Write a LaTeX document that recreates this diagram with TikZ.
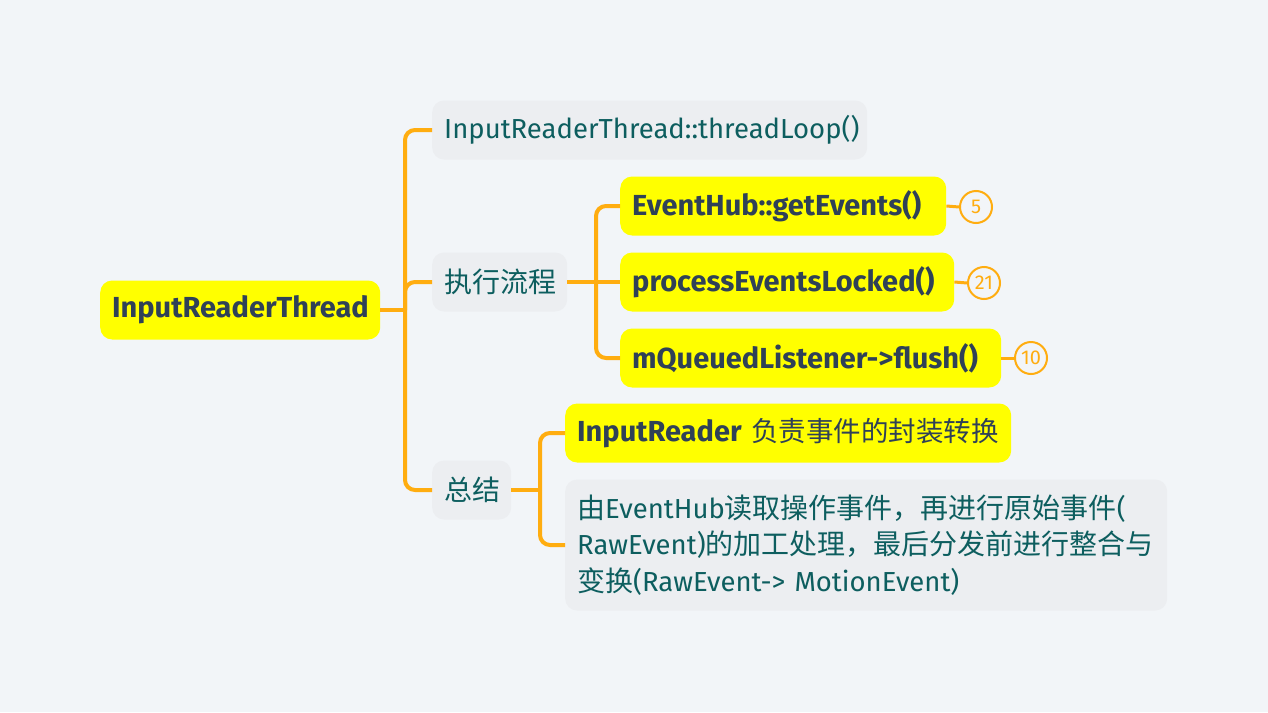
\documentclass[tikz,border=0pt]{standalone}
\usepackage{fontspec}
\setmainfont{Fira Sans}
\newfontfamily\cjk{Noto Sans CJK SC}
\definecolor{bgc}{HTML}{F2F5F8}
\definecolor{linec}{HTML}{FFAD10}
\definecolor{gboxc}{HTML}{ECEEF1}
\definecolor{yelc}{HTML}{FFFF00}
\definecolor{navyc}{HTML}{2F4157}
\definecolor{tealc}{HTML}{0D5E5F}
\tikzset{
  base/.style={rounded corners=12pt, minimum height=59pt, inner xsep=12pt, inner ysep=0pt, anchor=west, align=left},
  ybox/.style={base, fill=yelc, text=navyc, font=\bfseries\fontsize{29}{34}\selectfont},
  gbox/.style={base, fill=gboxc, text=tealc, font=\fontsize{27.5}{34}\selectfont},
  w/.style={text width=#1pt-24pt},
  conn/.style={draw=linec, line width=4pt, rounded corners=10pt},
  thin/.style={draw=linec, line width=3pt},
  badge/.style={circle, draw=linec, line width=2pt, text=linec, minimum size=32pt, inner sep=0pt, font=\fontsize{20}{22}\selectfont, anchor=west},
}
\begin{document}
\begin{tikzpicture}[x=1pt,y=-1pt]
\fill[bgc] (0,0) rectangle (1268,712);
\useasboundingbox (0,0) rectangle (1268,712);
% nodes
\node[ybox, w=280] (root) at (100,310) {InputReaderThread};
\node[gbox, w=435] (tl) at (432,130) {InputReaderThread::threadLoop()};
\node[gbox, w=135, font=\fontsize{28}{34}\selectfont] (flow) at (432,282) {\cjk 执行流程};
\node[gbox, w=79, font=\fontsize{28}{34}\selectfont] (summ) at (432,490) {\cjk 总结};
\node[ybox, w=326] (e1) at (620,206) {EventHub::getEvents()};
\node[ybox, w=334] (e2) at (620,282) {processEventsLocked()};
\node[ybox, w=381] (e3) at (620,358) {mQueuedListener->flush()};
\node[ybox, w=446] (s1) at (565,433) {\mbox{InputReader {\cjk\mdseries\fontsize{27.5}{34}\selectfont 负责事件的封装转换}}};
\node[gbox, w=602, minimum height=131pt, font=\fontsize{27.5}{36.5}\selectfont] (s2) at (565,545)
  {{\cjk\fontsize{28}{36.5}\selectfont 由}EventHub{\cjk\fontsize{28}{36.5}\selectfont 读取操作事件，再进行原始事件}(\\RawEvent){\cjk\fontsize{28}{36.5}\selectfont 的加工处理，最后分发前进行整合与}\\{\cjk\fontsize{28}{36.5}\selectfont 变换}(RawEvent-> MotionEvent)};
\node[badge] (c1) at (959,207) {5};
\node[badge] (c2) at (967,283) {21};
\node[badge] (c3) at (1014,358) {10};
% junctions
\coordinate (j1) at (405,310);
\coordinate (j2) at (596,282);
\coordinate (j3) at (540,490);
% connectors
\draw[conn] (root.east) -- (j1);
\draw[conn] (j1) |- (tl.west);
\draw[conn] (j1) |- (flow.west);
\draw[conn] (j1) |- (summ.west);
\draw[conn] (flow.east) -- (j2);
\draw[conn] (j2) |- (e1.west);
\draw[conn] (j2) -- (e2.west);
\draw[conn] (j2) |- (e3.west);
\draw[conn] (summ.east) -- (j3);
\draw[conn] (j3) |- (s1.west);
\draw[conn] (j3) |- (s2.west);
\draw[thin] (e1.east) -- (c1.west);
\draw[thin] (e2.east) -- (c2.west);
\draw[thin] (e3.east) -- (c3.west);
\end{tikzpicture}
\end{document}
